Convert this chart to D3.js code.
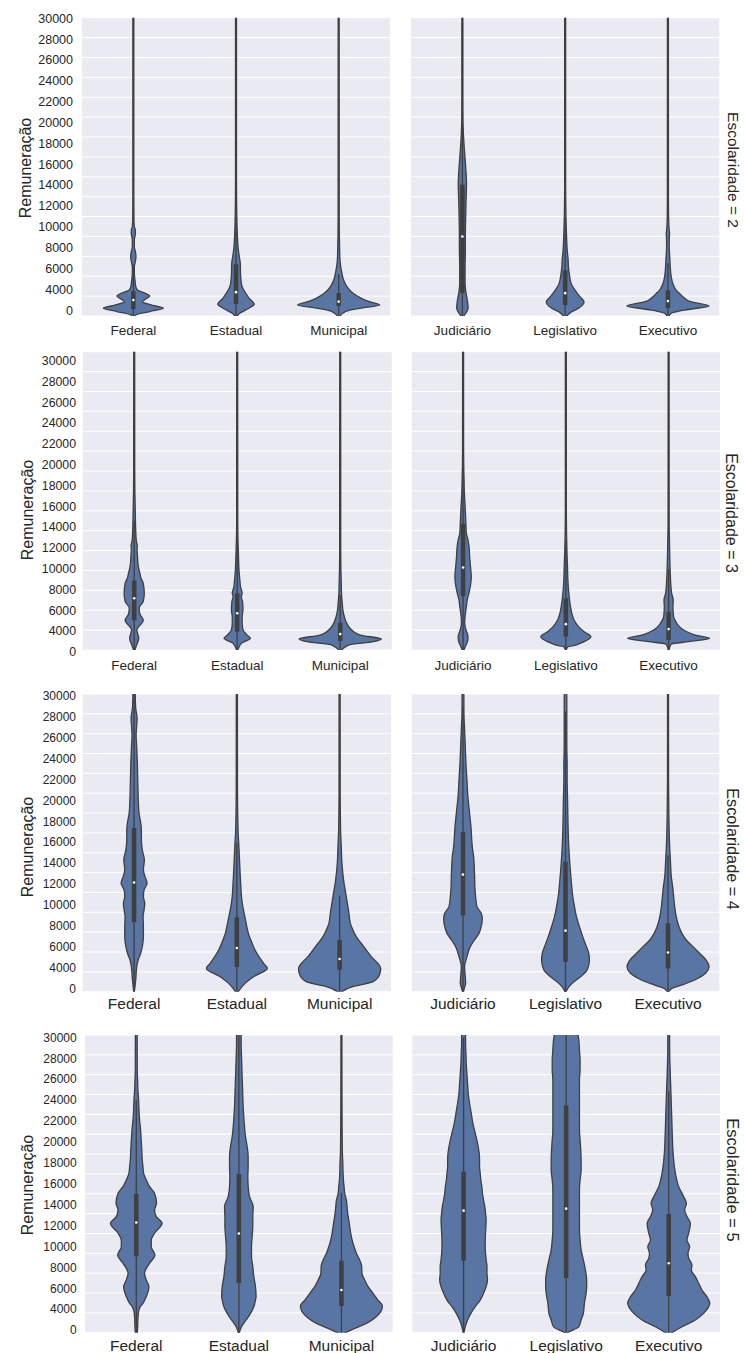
<!DOCTYPE html>
<html>
<head>
<meta charset="utf-8">
<script src="https://cdn.jsdelivr.net/npm/d3@7"></script>
<style>
  html, body { margin: 0; padding: 0; background: #ffffff; }
  svg { display: block; }
  text { font-family: "Liberation Sans", Arial, sans-serif; fill: #262626; }
</style>
</head>
<body>
<svg id="chart" width="744" height="1353"></svg>
<script>
// ---------------- DATA ----------------
const catsLeft = ["Federal", "Estadual", "Municipal"];
const catsRight = ["Judiciário", "Legislativo", "Executivo"];
const rowLabels = ["Escolaridade = 2", "Escolaridade = 3", "Escolaridade = 4", "Escolaridade = 5"];
const yAxisTitle = "Remuneração";
const tickLabels = ["0", "4000", "6000", "8000", "10000", "12000", "14000", "16000", "18000", "20000", "22000", "24000", "26000", "28000", "30000"];
const gridValues = [0, 2000, 4000, 6000, 8000, 10000, 12000, 14000, 16000, 18000, 20000, 22000, 24000, 26000, 28000, 30000];
const yDomain = [0, 30000];

// violin profiles: [remuneração, relative density (0-100)]
const esc2Federal = [[-200,0],[150,8],[450,40],[770,73],[1100,45],[1440,22],[1750,32],[2010,40],[2300,28],[2610,10],[2950,6],[3620,4],[4290,2.5],[4960,2.5],[5300,4],[5630,5.5],[5960,6.5],[6470,5],[6970,2.5],[7640,2.5],[8300,5],[8640,5],[8980,2.5],[9650,1.5],[12000,1.2],[31000,1.2]];
const esc2Estadual = [[-200,0],[300,10],[700,28],[1200,44.5],[1780,32],[2280,24],[2950,15],[3300,13],[4290,11],[5300,10.5],[5960,8],[6970,5],[8300,3.2],[9980,2],[11660,1.4],[13300,1.2],[31000,1.2]];
const esc2Municipal = [[-200,0],[270,10],[600,27],[770,51],[1100,100],[1440,75],[1780,55],[2280,35],[2950,20],[3620,12],[4290,8],[4960,5],[5630,3.2],[6630,2.4],[8300,1.6],[10000,1.3],[31000,1.2]];
const esc2Judiciario = [[-200,0],[150,6],[435,10.5],[770,14],[1600,12],[2280,9],[3280,6.5],[4960,6.5],[6630,7.3],[8300,7.3],[9980,8],[11660,9],[13330,10],[15000,8],[16680,5],[18360,2.5],[20040,1.4],[22000,1.2],[31000,1.2]];
const esc2Legislativo = [[-200,0],[435,16],[770,32],[1440,46],[1940,36],[2610,24],[3280,14.5],[4290,10],[4960,8],[5630,7.3],[6630,5],[8300,3.2],[9980,2],[11660,1.4],[13300,1.2],[31000,1.2]];
const esc2Executivo = [[-200,0],[270,8],[600,40],[1000,100],[1440,55],[1940,36.5],[2280,28],[2610,20],[3280,12],[3950,8],[4960,5.7],[5630,4.9],[6970,3.2],[7900,3.5],[8300,4],[8700,3],[9980,1.6],[11660,1.3],[31000,1.2]];

const esc3Federal = [[-200,0],[400,5],[1170,11],[2000,6.5],[3000,22],[3600,14],[4200,12],[4900,22],[5700,24.5],[6700,22],[7300,16],[7700,14],[8400,10],[9400,8],[10100,7],[10500,7.5],[11000,5],[11700,4],[12700,3.2],[14400,2.4],[16000,1.6],[18000,1.3],[31000,1.2]];
const esc3Estadual = [[-200,0],[670,10],[1170,32],[1500,24],[2000,14.5],[2680,12],[3350,12],[4020,14],[4860,13],[5360,10],[5700,12],[6370,8],[7040,6.5],[7700,5],[8380,4],[9400,3.2],[10400,2.4],[11700,1.6],[13000,1.3],[31000,1.2]];
const esc3Municipal = [[-200,0],[500,20],[840,81],[1100,100],[1500,49],[2000,28],[2680,16],[3350,10],[4020,6.5],[4690,5],[5700,3.2],[7040,2.4],[8380,1.6],[10400,1.3],[31000,1.2]];
const esc3Judiciario = [[-200,0],[400,6],[900,11],[1340,12],[1900,8],[2350,5],[2850,4],[3690,5.7],[4360,8],[5030,10],[5700,14],[6500,18],[7370,20],[8380,18],[9380,16],[10390,14.5],[11060,12],[11730,8],[13070,6.5],[14400,5],[15750,3.2],[17090,2.4],[18430,1.6],[20000,1.3],[31000,1.2]];
const esc3Legislativo = [[-200,0],[300,4],[500,24],[840,44.5],[1340,61],[1840,44.5],[2350,31],[3020,20],[3690,14.5],[4360,11.3],[5030,9],[6030,6.5],[7040,5],[8380,4],[9720,2.8],[11060,2],[12400,1.5],[14000,1.2],[31000,1.2]];
const esc3Executivo = [[-200,0],[500,5],[600,6.5],[840,49],[1170,100],[1500,65],[2000,36.5],[2680,20],[3350,12],[4360,10.5],[5030,11.3],[5700,7.3],[6370,5.7],[7700,4],[9380,2.8],[11060,2],[12700,1.3],[31000,1.2]];

const esc4Federal = [[-200,0],[600,2.5],[1180,4],[2520,6.5],[3190,10],[3870,16],[4540,20],[5550,22.7],[6550,22.7],[7560,21.9],[8240,24.3],[8900,26],[9580,22.7],[10250,24.3],[10920,31.6],[11600,26.7],[12270,22.7],[13280,25],[14300,20],[15300,17.8],[16300,17.8],[17000,16.2],[18000,12],[19000,10.5],[20000,9.7],[21350,8.9],[23000,8],[24540,6.5],[25880,5],[26900,6.5],[27560,7.3],[28570,4],[29300,3.2],[31000,2.4]];
const esc4Estadual = [[-200,0],[840,20],[1510,40.5],[2350,74],[2860,65],[3870,48.6],[4540,40.5],[5210,34],[5880,28],[6550,24.3],[7230,21],[7900,17.8],[8570,14.5],[9580,11.3],[10590,9.7],[11930,8],[13280,6.5],[14620,5],[15970,3.2],[17310,2.4],[18650,1.8],[21000,1.5],[31000,1.4]];
const esc4Municipal = [[-200,0],[500,32],[670,49],[1010,81],[1700,97],[2350,100],[2860,93],[3530,77],[4200,65],[4870,52.7],[5550,40.5],[6220,32.4],[6890,26],[7900,22.7],[9580,16.2],[11260,9.7],[12940,5.7],[14620,4],[16300,2.4],[18000,1.8],[20000,1.4],[31000,1.3]];
const esc4Judiciario = [[-200,0],[300,3],[840,6.5],[1850,5],[2520,4],[3530,9.7],[4540,17.8],[5210,28],[5880,39],[6550,44.5],[7400,47],[7900,44.5],[8570,34],[9580,30.8],[10590,29],[11600,28.4],[12600,27.5],[13610,26],[14620,22.7],[15630,21],[16640,19.4],[17980,16.2],[19660,12],[21340,9.7],[23030,7.3],[24710,5.7],[26390,4],[28070,2.4],[31000,2]];
const esc4Legislativo = [[-200,0],[300,5],[840,16.2],[1510,36.5],[2180,52.7],[3190,58.3],[3870,56.7],[4540,51],[5550,42],[6550,34],[7560,26.7],[8570,21.9],[9580,17.8],[11260,13.8],[12940,10.5],[14620,8],[16300,6.5],[17980,5.7],[19660,4.9],[21340,4],[23030,4],[24710,3.2],[26390,3.2],[28070,3.2],[29500,3.2],[31000,2.4]];
const esc4Executivo = [[-200,0],[300,8],[670,32.4],[1180,65],[2520,100],[3190,93],[3870,77],[4540,61],[5210,44.5],[5880,34],[6550,26.7],[7560,20],[8570,16.2],[9580,13.8],[10590,11.3],[11600,8],[12600,6.5],[13280,5.7],[14620,4],[16300,2.8],[17980,2],[21340,1.3],[31000,1.2]];

const esc5Federal = [[-300,0],[0,2.4],[1950,4.9],[2620,9.7],[2960,16.2],[3630,24.3],[4640,30.8],[5310,24.3],[5980,20],[7000,32.4],[7830,45.4],[8670,36.5],[9340,36.5],[10020,44.5],[11030,63],[11700,48.6],[12370,44.5],[13040,49.4],[14050,44.5],[14720,32.4],[15390,24.3],[16070,17.8],[16740,16.2],[17410,14.5],[18080,13.8],[18760,13],[19430,12],[20430,10.5],[21450,8],[22490,6.5],[23460,5.7],[24470,4],[25480,3.2],[26500,2.4],[31000,2.2]];
const esc5Estadual = [[-200,0],[600,6.5],[1280,17.8],[1950,28.4],[2620,36.5],[3290,40.5],[3630,42],[4640,40.5],[5650,36.5],[6660,34],[7660,30.8],[8670,30.8],[9680,32.4],[10690,34],[11700,34],[12710,35],[13710,26],[14720,22.7],[15730,21.9],[16740,22.7],[17750,22.7],[18760,20.3],[19760,16.2],[20770,13.8],[21780,12],[22790,10.5],[23800,9.7],[24810,8.9],[25820,8],[26820,7.3],[27830,6.5],[28840,5.7],[31000,5.5]];
const esc5Municipal = [[-200,0],[440,32.4],[940,60.8],[1610,85],[2690,100],[3290,89],[3970,77],[4640,65],[5310,56.7],[5980,50],[6720,49.4],[7330,44.5],[8000,36.5],[8670,30.8],[9340,26],[10020,22.7],[10690,20.3],[11360,17.8],[12030,15.4],[12710,13.8],[13380,12],[14050,8],[14720,6.5],[15390,4.9],[16070,4],[17410,3.2],[18080,2.4],[21450,1.6],[24800,1.3],[31000,1.2]];
const esc5Judiciario = [[-200,0],[600,4],[1280,9.7],[1950,17.8],[2620,28.4],[3290,40.5],[3970,48.6],[4640,55],[5310,58.3],[5980,57],[6660,57],[7330,55],[8000,53.5],[8670,52.7],[9340,52.7],[10020,53.5],[10690,54.3],[11360,55],[12030,53.5],[12710,51.8],[13380,48.6],[14050,46],[14720,44.5],[15390,42],[16070,40.5],[16740,38.9],[17410,38.9],[18080,38],[19090,34],[20100,28.4],[21100,22.7],[22120,18.6],[23130,14.5],[24130,11.3],[25140,9.7],[26150,8],[27160,6.5],[28170,5.7],[29000,4.9],[31000,4.5]];
const esc5Legislativo = [[-100,0],[100,8],[600,30.8],[1280,36.5],[1950,42],[2960,44.5],[3970,48.6],[4640,50],[5310,50],[6320,47],[7330,42],[8340,36.5],[9340,34],[10350,32.4],[11360,32.4],[12370,32.4],[13380,32.4],[14380,32.4],[15390,34],[16400,36.5],[17410,36.5],[18420,35.6],[19430,34],[20430,32.4],[21440,32.4],[22450,32.4],[23460,32.4],[24470,32.4],[25480,32.4],[26490,34],[27500,34],[28500,32.4],[29500,30.8],[30000,29],[31000,27]];
const esc5Executivo = [[-200,0],[600,32.4],[1280,65],[1950,85],[2960,100],[3630,93],[4300,81],[4980,73],[5650,65],[6320,55],[6820,56.7],[7500,48.6],[8000,47],[8670,51],[9340,44.5],[10020,48.6],[11030,52.7],[11700,44.5],[12370,39],[13040,43],[13710,36.5],[14720,24.3],[15730,17.8],[16740,13.8],[17750,11.3],[18760,9.7],[19760,8.9],[20770,8],[21780,7.3],[22790,6.5],[23800,5.7],[24810,4.9],[25820,4],[26820,3.2],[28170,2.4],[31000,2]];

// box stats [q1, median, q3] in category order: Federal, Estadual, Municipal, Judiciário, Legislativo, Executivo
const boxEsc2 = [[700,1600,2500],[1200,2400,5200],[1000,1450,2300],[2300,8000,13200],[1100,2300,4600],[800,1500,2600]];
const boxEsc3 = [[3000,5200,7000],[1850,3700,5700],[900,1600,2750],[5400,8300,12700],[1350,2600,5200],[1000,2100,3850]];
const boxEsc4 = [[7000,11000,16500],[2500,4400,7500],[2200,3300,5200],[7700,11800,16100],[3000,6150,13100],[2350,3950,6900]];
const boxEsc5 = [[7700,11100,14000],[5000,10000,16000],[2700,4300,7250],[7250,12300,16250],[5500,12500,22900],[3700,7000,11950]];

// ---------------- LAYOUT ----------------
const rowsLayout = [
  {top:17.7, bottom:316, L:[82,390], R:[411,719.3], lab:[310,18.3], tickX:73, tickFont:12.5, xLabY:330, xLabFont:13.5, yLab:[25,168], facet:[733,170], facetFont:15.5},
  {top:351.7, bottom:650, L:[82.7,391.7], R:[411.7,720], lab:[651.7,360.7], tickX:76, tickFont:12.3, xLabY:665, xLabFont:13.5, yLab:[27,510], facet:[732,513], facetFont:16},
  {top:694, bottom:991.7, L:[82.7,391], R:[411.7,719.3], lab:[988.3,696], tickX:76, tickFont:12, xLabY:1004, xLabFont:15.5, yLab:[27,847], facet:[733,849], facetFont:16.3},
  {top:1035, bottom:1332.7, L:[85,392.7], R:[412.3,720], lab:[1330,1037.3], tickX:76.7, tickFont:12, xLabY:1346, xLabFont:15.5, yLab:[27,1185], facet:[733,1180], facetFont:16.5}
];
const rowViolins = [
  [esc2Federal, esc2Estadual, esc2Municipal, esc2Judiciario, esc2Legislativo, esc2Executivo],
  [esc3Federal, esc3Estadual, esc3Municipal, esc3Judiciario, esc3Legislativo, esc3Executivo],
  [esc4Federal, esc4Estadual, esc4Municipal, esc4Judiciario, esc4Legislativo, esc4Executivo],
  [esc5Federal, esc5Estadual, esc5Municipal, esc5Judiciario, esc5Legislativo, esc5Executivo]
];
const rowBoxes = [boxEsc2, boxEsc3, boxEsc4, boxEsc5];

const FILL = "#5875a4", EDGE = "#3f3f3f", BG = "#eaeaf2";

const svg = d3.select("#chart");
const defs = svg.append("defs");

rowsLayout.forEach((L, ri) => {
  const y = d3.scaleLinear().domain(yDomain).range([L.bottom, L.top]);
  const panels = [
    {cats: catsLeft, range: L.L, offset: 0},
    {cats: catsRight, range: L.R, offset: 3}
  ];
  panels.forEach((p, pi) => {
    const x = d3.scaleBand().domain(p.cats).range(p.range).padding(0);
    const w = d3.scaleLinear().domain([0, 100]).range([0, x.bandwidth() * 0.4]);
    const clipId = `clip-${ri}-${pi}`;
    defs.append("clipPath").attr("id", clipId)
      .append("rect")
      .attr("x", p.range[0]).attr("y", L.top)
      .attr("width", p.range[1] - p.range[0]).attr("height", L.bottom - L.top);

    const g = svg.append("g");
    g.append("rect")
      .attr("x", p.range[0]).attr("y", L.top)
      .attr("width", p.range[1] - p.range[0]).attr("height", L.bottom - L.top)
      .attr("fill", BG);
    // gridlines
    g.append("g").selectAll("line").data(gridValues).join("line")
      .attr("x1", p.range[0]).attr("x2", p.range[1])
      .attr("y1", d => y(d)).attr("y2", d => y(d))
      .attr("stroke", "#ffffff").attr("stroke-width", 1);

    const vg = g.append("g").attr("clip-path", `url(#${clipId})`);
    p.cats.forEach((cat, ci) => {
      const cx = x(cat) + x.bandwidth() / 2;
      const prof = rowViolins[ri][p.offset + ci];
      const area = d3.area()
        .y(d => y(d[0]))
        .x0(d => cx - w(d[1]))
        .x1(d => cx + w(d[1]))
        .curve(d3.curveMonotoneY);
      vg.append("path").attr("d", area(prof))
        .attr("fill", FILL).attr("stroke", EDGE).attr("stroke-width", 1.3)
        .attr("stroke-linejoin", "round");
      const [q1, med, q3] = rowBoxes[ri][p.offset + ci];
      const iqr = q3 - q1;
      const wLo = Math.max(0, q1 - 1.5 * iqr), wHi = Math.min(30000, q3 + 1.5 * iqr);
      vg.append("line")
        .attr("x1", cx).attr("x2", cx)
        .attr("y1", y(wLo)).attr("y2", y(wHi))
        .attr("stroke", EDGE).attr("stroke-width", 1.3);
      vg.append("line")
        .attr("x1", cx).attr("x2", cx)
        .attr("y1", y(q1)).attr("y2", y(q3))
        .attr("stroke", EDGE).attr("stroke-width", 4.5);
      vg.append("circle")
        .attr("cx", cx).attr("cy", y(med)).attr("r", 1.3)
        .attr("fill", "#ffffff");
    });

    // x axis labels
    const xa = g.append("g").attr("transform", `translate(0,${L.xLabY})`)
      .call(d3.axisBottom(x).tickSize(0).tickPadding(0));
    xa.select(".domain").remove();
    xa.selectAll("text")
      .attr("y", 0).attr("dy", "0.35em")
      .style("font-size", L.xLabFont + "px")
      .style("font-family", '"Liberation Sans", Arial, sans-serif')
      .attr("fill", "#262626");
  });

  // y tick labels (left panel only)
  const ylab = d3.scalePoint().domain(tickLabels).range(L.lab);
  const ya = svg.append("g").attr("transform", `translate(${L.tickX},0)`)
    .call(d3.axisLeft(ylab).tickSize(0).tickPadding(0));
  ya.select(".domain").remove();
  ya.selectAll("text")
    .style("font-size", L.tickFont + "px")
    .style("font-family", '"Liberation Sans", Arial, sans-serif')
    .attr("fill", "#262626");

  // y axis title
  svg.append("text")
    .attr("transform", `translate(${L.yLab[0]},${L.yLab[1]}) rotate(-90)`)
    .attr("text-anchor", "middle").attr("dy", "0.35em")
    .style("font-size", "16px")
    .text(yAxisTitle);

  // facet label
  svg.append("text")
    .attr("transform", `translate(${L.facet[0]},${L.facet[1]}) rotate(90)`)
    .attr("text-anchor", "middle").attr("dy", "0.35em")
    .style("font-size", L.facetFont + "px")
    .text(rowLabels[ri]);
});
</script>
</body>
</html>
